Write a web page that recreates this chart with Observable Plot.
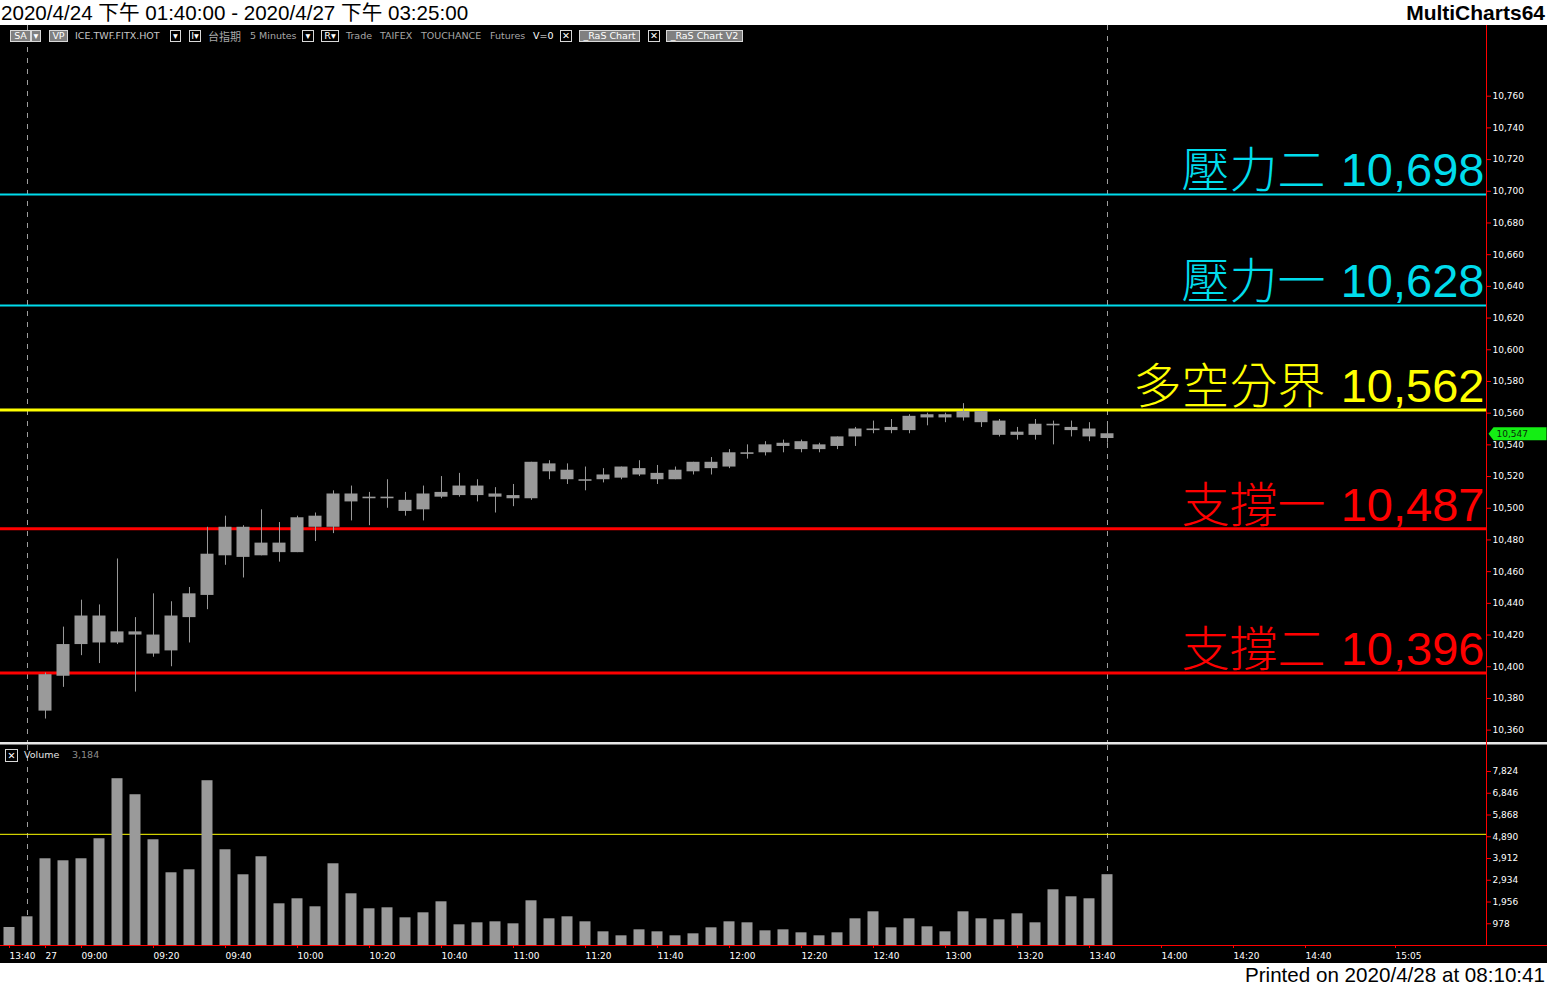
<!DOCTYPE html>
<html lang="zh-Hant">
<head>
<meta charset="utf-8">
<title>台指期 5 Minutes</title>
<script src="https://cdn.jsdelivr.net/npm/d3@7"></script>
<script src="https://cdn.jsdelivr.net/npm/@observablehq/plot@0.6"></script>
<style>
  html, body { margin: 0; padding: 0; background: #fff; }
  #page { position: relative; width: 1547px; height: 986px; overflow: hidden; background: #fff; }
  .hdr { position: absolute; font-family: "Liberation Sans", "Noto Sans CJK TC", sans-serif; color: #000; white-space: nowrap; }
  #title { left: 1px; top: 0; font-size: 20.6px; line-height: 25px; }
  #brand { right: 2px; top: 0; font-size: 21px; line-height: 25px; font-weight: bold; }
  #footer { right: 2px; top: 963px; font-size: 20.6px; line-height: 23px; }
  #main { position: absolute; left: 0; top: 25px; width: 1547px; height: 938px; background: #000; overflow: hidden; }
  #pricePanel { position: absolute; left: 0; top: 0; }
  #volPanel { position: absolute; left: 0; top: 720px; }
  .sep1 { position: absolute; left: 0; top: 717px; width: 1547px; height: 2px; background: #e8e8e8; }
  .sep2 { position: absolute; left: 0; top: 719px; width: 1547px; height: 1px; background: #7a7a7a; }
  .vaxis { position: absolute; left: 1486px; top: 0; width: 1px; height: 921px; background: #ff0000; }
  .baseExt { position: absolute; left: 1486px; top: 920px; width: 61px; height: 1px; background: #ff0000; }
  .tb { position: absolute; top: 5px; height: 12px; line-height: 12px; font-family: "DejaVu Sans", sans-serif; font-size: 9.5px; color: #a8a8a8; white-space: nowrap; }
  .box { box-sizing: border-box; border: 1px solid #d8d8d8; text-align: center; color: #fff; line-height: 10px; }
  .gbox { background: #808080; }
  .kbox { background: #000; }
  .vh { position: absolute; top: 724px; height: 12px; line-height: 12px; font-family: "DejaVu Sans", sans-serif; font-size: 9.5px; white-space: nowrap; }
</style>
</head>
<body>
<div id="page">
  <div id="title" class="hdr">2020/4/24 下午 01:40:00 - 2020/4/27 下午 03:25:00</div>
  <div id="brand" class="hdr">MultiCharts64</div>
  <div id="main">
    <div id="pricePanel"></div>
    <div class="sep1"></div>
    <div class="sep2"></div>
    <div id="volPanel"></div>
    <div class="vaxis"></div>
    <div class="baseExt"></div>

    <div class="tb box gbox" style="left:10px;width:21px;">SA</div>
    <div class="tb box gbox" style="left:31px;width:10px;">▾</div>
    <div class="tb box gbox" style="left:49px;width:19px;">VP</div>
    <div class="tb" style="left:75px;color:#c8c8c8;">ICE.TWF.FITX.HOT</div>
    <div class="tb box kbox" style="left:170px;width:11px;">▾</div>
    <div class="tb box kbox" style="left:189px;width:12px;">I▾</div>
    <div class="tb" style="left:208px;font-family:'Noto Sans CJK TC',sans-serif;font-size:11px;">台指期</div>
    <div class="tb" style="left:250px;">5 Minutes</div>
    <div class="tb box kbox" style="left:302px;width:12px;">▾</div>
    <div class="tb box kbox" style="left:321px;width:18px;">R▾</div>
    <div class="tb" style="left:346px;">Trade</div>
    <div class="tb" style="left:380px;">TAIFEX</div>
    <div class="tb" style="left:421px;">TOUCHANCE</div>
    <div class="tb" style="left:490px;">Futures</div>
    <div class="tb" style="left:533px;color:#fff;">V=0</div>
    <div class="tb box kbox" style="left:560px;width:12px;">✕</div>
    <div class="tb box gbox" style="left:579px;width:61px;">_RaS Chart</div>
    <div class="tb box kbox" style="left:648px;width:12px;">✕</div>
    <div class="tb box gbox" style="left:666px;width:77px;">_RaS Chart V2</div>

    <div class="vh box kbox" style="left:5px;width:13px;height:13px;">✕</div>
    <div class="vh" style="left:24px;color:#e6e6e6;">Volume</div>
    <div class="vh" id="volValue" style="left:72px;color:#8c8c8c;"></div>
  </div>
  <div id="footer" class="hdr">Printed on 2020/4/28 at 08:10:41</div>
</div>
<script>
// ---- data (bar index 0-1: 2020/4/24 13:40, 13:45; 2..61: 2020/4/27 08:50 .. 13:45) ----
const barIdx = d3.range(62);
const barOpen = [null, null,
  10372, 10394, 10414, 10432, 10415, 10422, 10420, 10410, 10431, 10445,
  10470, 10488, 10470, 10478, 10472, 10495, 10488, 10509, 10506, 10507,
  10505, 10499, 10510, 10508, 10514, 10507, 10508, 10506, 10528, 10524,
  10518, 10518, 10519, 10525, 10522, 10518, 10523, 10529, 10526, 10535,
  10535, 10541, 10537, 10540, 10539, 10545, 10550, 10549, 10549, 10557,
  10559, 10557, 10561, 10555, 10546, 10546, 10553, 10551, 10550, 10544];
const barHigh = [null, null,
  10396, 10425, 10442, 10439, 10468, 10431, 10446, 10441, 10450, 10488,
  10495, 10489, 10499, 10491, 10495, 10497, 10511, 10514, 10510, 10518,
  10510, 10514, 10520, 10522, 10518, 10513, 10515, 10529, 10530, 10528,
  10526, 10525, 10526, 10530, 10527, 10526, 10529, 10532, 10537, 10540,
  10542, 10543, 10543, 10541, 10545, 10551, 10555, 10556, 10559, 10560,
  10560, 10566, 10561, 10556, 10551, 10556, 10555, 10555, 10554, 10553];
const barLow = [null, null,
  10367, 10387, 10407, 10402, 10414, 10384, 10406, 10400, 10415, 10436,
  10464, 10456, 10470, 10466, 10472, 10479, 10484, 10492, 10489, 10500,
  10495, 10492, 10506, 10507, 10504, 10497, 10501, 10505, 10518, 10515,
  10511, 10516, 10518, 10520, 10515, 10518, 10521, 10521, 10525, 10531,
  10533, 10535, 10535, 10535, 10537, 10539, 10547, 10547, 10547, 10552,
  10554, 10555, 10551, 10545, 10543, 10543, 10540, 10545, 10542, 10541];
const barClose = [null, null,
  10395, 10414, 10432, 10415, 10422, 10420, 10408, 10432, 10446, 10471,
  10488, 10469, 10478, 10472, 10494, 10488, 10509, 10504, 10507, 10506,
  10498, 10509, 10507, 10514, 10508, 10509, 10506, 10529, 10523, 10518,
  10517, 10521, 10526, 10521, 10518, 10524, 10529, 10525, 10535, 10534,
  10540, 10539, 10542, 10537, 10545, 10550, 10549, 10551, 10558, 10559,
  10557, 10561, 10554, 10546, 10548, 10553, 10552, 10549, 10545, 10547];
const barVolume = [
  810, 1290, 3900, 3810, 3900, 4800, 7500, 6780, 4755, 3270,
  3405, 7410, 4305, 3180, 3990, 1875, 2100, 1740, 3675, 2325,
  1650, 1695, 1245, 1470, 1965, 930, 1020, 1065, 975, 2010,
  1200, 1290, 1065, 615, 435, 705, 615, 435, 525, 795,
  1065, 1020, 660, 705, 570, 435, 570, 1200, 1515, 795,
  1200, 840, 615, 1515, 1200, 1155, 1425, 1020, 2505, 2190,
  2100, 3184];
const sessionEnds = [1, 61];

const levelNames = ["壓力二", "壓力一", "多空分界", "支撐一", "支撐二"];
const levelValues = [10698, 10628, 10562, 10487, 10396];
const levelColors = ["#00dcec", "#00dcec", "#ffff00", "#ff0000", "#ff0000"];

const priceTicks = d3.range(10360, 10761, 20);
const volumeTicks = [978, 1956, 2934, 3912, 4890, 5868, 6846, 7824];
const volumeRefLine = 5000;
const timeTickIdx = [0, 2, 4, 8, 12, 16, 20, 24, 28, 32, 36, 40, 44, 48, 52, 56, 60, 64, 68, 72, 77];
const timeTickLabels = ["13:40", "27", "09:00", "09:20", "09:40", "10:00", "10:20", "10:40", "11:00", "11:20",
  "11:40", "12:00", "12:20", "12:40", "13:00", "13:20", "13:40", "14:00", "14:20", "14:40", "15:05"];
const lastClose = barClose[barClose.length - 1];

// ---- build ----
const GRAY = "#9a9a9a", RED = "#ff0000", GREEN = "#14ee14", DASH = "#a0a0a0";
const fmt = d3.format(",");
const xDomain = [-0.5, 82.0556];
const bodyHalf = 6.5 / 18, volHalf = 5.5 / 18;

const candles = barIdx.filter(i => barOpen[i] != null).map(i => ({
  i, open: barOpen[i], high: barHigh[i], low: barLow[i], close: barClose[i]
}));
const vols = barIdx.map(i => ({i, v: barVolume[i]}));
const levels = levelNames.map((name, k) => ({name, value: levelValues[k], color: levelColors[k], w: k < 2 ? 2 : 3}));
const tickLabel = new Map(timeTickIdx.map((t, k) => [t, timeTickLabels[k]]));

const markerShape = {
  draw(ctx) {
    ctx.moveTo(2, 0); ctx.lineTo(7, -6.5); ctx.lineTo(60, -6.5);
    ctx.lineTo(60, 6.5); ctx.lineTo(7, 6.5); ctx.closePath();
  }
};

const baseStyle = {background: "transparent", color: "#fff", fontFamily: "DejaVu Sans", fontSize: "9px", overflow: "visible"};

const priceChart = Plot.plot({
  width: 1547, height: 717,
  marginLeft: 0, marginRight: 61, marginTop: 0, marginBottom: 0,
  style: baseStyle,
  x: {domain: xDomain, axis: null},
  y: {domain: [10352.2, 10804.6], axis: null},
  marks: [
    Plot.ruleX(sessionEnds, {x: d => d, stroke: DASH, strokeDasharray: "5,6"}),
    Plot.ruleY(levels, {y: "value", stroke: "color", strokeWidth: "w"}),
    Plot.ruleX(candles, {x: "i", y1: "low", y2: "high", stroke: GRAY}),
    Plot.rect(candles, {x1: d => d.i - bodyHalf, x2: d => d.i + bodyHalf, y1: "open", y2: "close", fill: GRAY}),
    Plot.text(levels, {y: "value", text: d => fmt(d.value), frameAnchor: "right", textAnchor: "end", lineAnchor: "bottom",
      dx: -2, dy: -8, fill: "color", fontSize: 47, fontFamily: "Liberation Sans"}),
    Plot.text(levels, {y: "value", text: "name", frameAnchor: "right", textAnchor: "end", lineAnchor: "bottom",
      dx: -161, dy: -7, fill: "color", fontSize: 48, fontWeight: 300, fontFamily: "Noto Sans CJK TC"}),
    Plot.axisY({anchor: "right", ticks: priceTicks, tickFormat: fmt, tickSize: 4, tickPadding: 2,
      stroke: RED, fill: "#fff", label: null}),
    Plot.dot([lastClose], {y: d => d, frameAnchor: "right", symbol: markerShape, fill: GREEN}),
    Plot.text([lastClose], {y: d => d, frameAnchor: "right", text: d => fmt(d), textAnchor: "start", dx: 10,
      fill: "#0a2a0a", fontSize: 9})
  ]
});
document.getElementById("pricePanel").appendChild(priceChart);

const volChart = Plot.plot({
  width: 1547, height: 218,
  marginLeft: 0, marginRight: 61, marginTop: 0, marginBottom: 18,
  style: baseStyle,
  x: {domain: xDomain, axis: null},
  y: {domain: [0, 8994], axis: null},
  marks: [
    Plot.ruleX(sessionEnds, {x: d => d, stroke: DASH, strokeDasharray: "5,6"}),
    Plot.ruleY([volumeRefLine], {stroke: "#ffff00"}),
    Plot.rectY(vols, {x1: d => d.i - volHalf, x2: d => d.i + volHalf, y: "v", fill: GRAY}),
    Plot.ruleY([0], {stroke: RED}),
    Plot.axisY({anchor: "right", ticks: volumeTicks, tickFormat: fmt, tickSize: 4, tickPadding: 2,
      stroke: RED, fill: "#fff", label: null}),
    Plot.axisX({ticks: timeTickIdx, tickFormat: d => tickLabel.get(d), tickSize: 3, tickPadding: 4,
      textAnchor: "start", stroke: RED, fill: "#fff", label: null})
  ]
});
document.getElementById("volPanel").appendChild(volChart);
document.getElementById("volValue").textContent = fmt(barVolume[barVolume.length - 1]);
</script>
</body>
</html>
